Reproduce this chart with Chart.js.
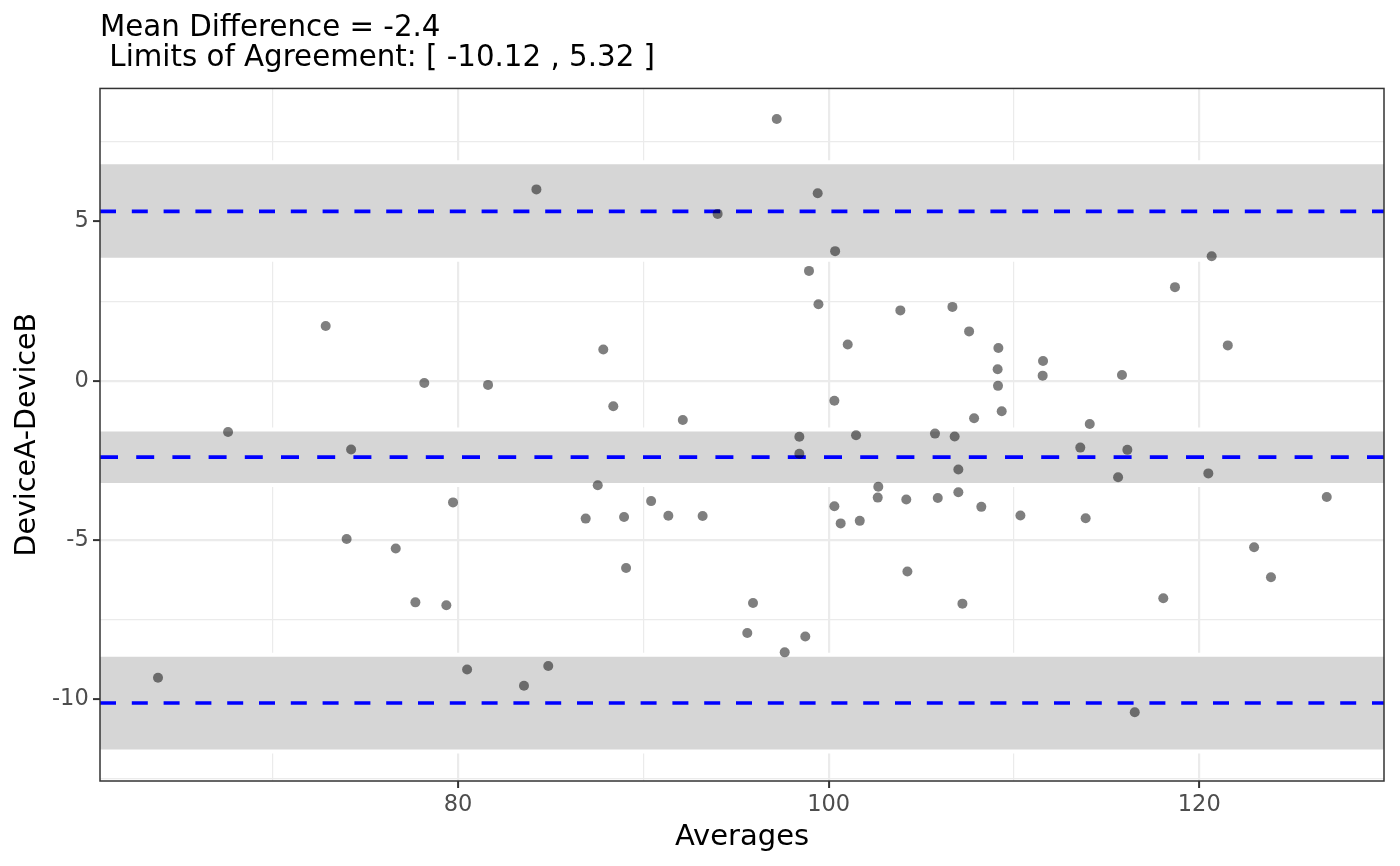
<!DOCTYPE html>
<html>
<head>
<meta charset="utf-8">
<script src="https://cdn.jsdelivr.net/npm/chart.js@4/dist/chart.umd.min.js"></script>
<style>
  html, body { margin: 0; padding: 0; background: #ffffff; }
  #wrap { width: 1400px; height: 866px; position: relative; }
</style>
</head>
<body>
<div id="wrap"><canvas id="c" width="1400" height="866"></canvas></div>
<script>
// ---- data ----
const averages = [63.81, 67.59, 72.86, 73.99, 74.23, 76.64, 77.70, 78.18, 79.37, 79.73,
  80.49, 81.62, 83.56, 84.23, 84.87, 86.89, 87.54, 87.84, 88.38, 88.96,
  89.07, 90.42, 91.35, 92.13, 93.20, 94.01, 95.61, 95.92, 97.20, 97.63,
  98.42, 98.42, 98.74, 98.94, 99.41, 99.45, 100.31, 100.35, 100.31, 100.65,
  101.03, 101.48, 101.68, 102.65, 102.68, 103.87, 104.19, 104.25, 105.74, 105.89,
  106.68, 106.80, 107.00, 107.00, 107.22, 107.58, 107.85, 108.24, 109.16, 109.12,
  109.14, 109.34, 110.35, 111.57, 111.55, 113.58, 113.87, 114.09, 115.62, 115.83,
  116.12, 116.52, 118.06, 118.69, 120.49, 120.67, 121.54, 122.96, 123.87, 126.88];
const differences = [-9.33, -1.61, 1.72, -4.97, -2.16, -5.27, -6.96, -0.07, -7.05, -3.82,
  -9.07, -0.13, -9.58, 6.01, -8.96, -4.33, -3.28, 0.98, -0.80, -4.28,
  -5.88, -3.78, -4.24, -1.23, -4.25, 5.24, -7.92, -6.98, 8.22, -8.53,
  -1.76, -2.29, -8.03, 3.45, 5.89, 2.40, -0.63, 4.07, -3.94, -4.48,
  1.14, -1.71, -4.40, -3.67, -3.33, 2.21, -3.73, -5.99, -1.66, -3.68,
  2.32, -1.75, -2.79, -3.50, -7.00, 1.55, -1.18, -3.96, 1.03, 0.36,
  -0.16, -0.96, -4.23, 0.62, 0.16, -2.10, -4.32, -1.36, -3.03, 0.18,
  -2.17, -10.41, -6.83, 2.94, -2.91, 3.91, 1.11, -5.23, -6.17, -3.65];

const meanDiff = -2.4;
const lowerLoA = -10.12;
const upperLoA = 5.32;
// confidence bands (low, high) for lower LoA, mean, upper LoA
const bandLow  = [-11.58, -3.21, 3.86];
const bandHigh = [-8.67, -1.59, 6.80];
const refLines = [upperLoA, meanDiff, lowerLoA];

// axes
const xRange = [60.68, 129.97];
const yRange = [-12.57, 9.18];
const xMajorTicks = [80, 100, 120];
const xMinorTicks = [70, 90, 110];
const yMajorTicks = [-10, -5, 0, 5];
const yMinorTicks = [-12.5, -7.5, -2.5, 2.5, 7.5];

const titleLines = ["Mean Difference = " + meanDiff,
  " Limits of Agreement: [ " + lowerLoA + " , " + upperLoA + " ]"];
const xTitle = "Averages";
const yTitle = "DeviceA-DeviceB";

// ---- build datasets ----
const FONT = "DejaVu Sans";
const datasets = [];

datasets.push({
  type: 'scatter',
  data: averages.map((a, i) => ({x: a, y: differences[i]})),
  pointRadius: 5,
  pointHoverRadius: 5,
  pointBackgroundColor: 'rgba(0,0,0,0.5)',
  pointBorderWidth: 0,
  showLine: false,
  order: 0
});

refLines.forEach((v, i) => {
  datasets.push({
    type: 'line',
    data: [{x: xRange[0], y: v}, {x: xRange[1], y: v}],
    borderColor: '#0000FF',
    borderWidth: 3.6,
    borderDash: v === meanDiff ? [18, 18.2] : [16, 15.8],
    pointRadius: 0,
    fill: false,
    clip: 0,
    order: 1
  });
});

const pad = 8;
bandLow.forEach((lo, i) => {
  const hi = bandHigh[i];
  const poly = [
    {x: xRange[0] - pad, y: hi}, {x: xRange[1] + pad, y: hi},
    {x: xRange[1] + pad, y: lo}, {x: xRange[0] - pad, y: lo},
    {x: xRange[0] - pad, y: hi}
  ];
  // white halo around the band (hides gridlines next to it)
  datasets.push({
    type: 'line', data: poly, borderColor: '#FFFFFF', borderWidth: 8,
    backgroundColor: '#FFFFFF', fill: 'shape', pointRadius: 0, clip: 0,
    tension: 0, order: 3
  });
  datasets.push({
    type: 'line', data: poly, borderWidth: 0, borderColor: 'rgba(0,0,0,0)',
    backgroundColor: '#D6D6D6', fill: 'shape', pointRadius: 0, clip: 0,
    tension: 0, order: 2
  });
});

const frame = {
  id: 'frame',
  afterDatasetsDraw(chart) {
    const {ctx, chartArea: a} = chart;
    ctx.save();
    ctx.strokeStyle = '#333333';
    ctx.lineWidth = 1.5;
    ctx.strokeRect(a.left, a.top, a.right - a.left, a.bottom - a.top);
    ctx.restore();
  }
};

const isMajor = (list, v) => list.some(t => Math.abs(t - v) < 1e-9);

new Chart(document.getElementById('c'), {
  type: 'scatter',
  data: { datasets },
  plugins: [frame],
  options: {
    responsive: false,
    animation: false,
    devicePixelRatio: 1,
    events: [],
    layout: { padding: { left: 0, right: 16, top: 0, bottom: 0 } },
    plugins: {
      legend: { display: false },
      tooltip: { enabled: false },
      title: {
        display: true,
        text: titleLines,
        align: 'start',
        fullSize: false,
        color: '#000000',
        font: { family: FONT, size: 29.3, weight: 'normal', lineHeight: 1.04 },
        padding: { top: 13, bottom: 14.5 }
      }
    },
    scales: {
      x: {
        type: 'linear',
        min: xRange[0], max: xRange[1],
        afterBuildTicks: (s) => { s.ticks = xMinorTicks.concat(xMajorTicks).sort((a,b)=>a-b).map(v => ({value: v})); },
        afterFit: (s) => { s.height = 85; },
        ticks: {
          autoSkip: false, maxRotation: 0, padding: 3.8,
          color: '#4D4D4D',
          font: { family: FONT, size: 22.5 },
          callback: (v) => isMajor(xMajorTicks, v) ? String(v) : ''
        },
        grid: {
          color: '#EBEBEB',
          lineWidth: (ctx) => isMajor(xMajorTicks, ctx.tick.value) ? 2.2 : 1.2,
          tickLength: 7,
          tickWidth: 2,
          tickColor: (ctx) => isMajor(xMajorTicks, ctx.tick.value) ? '#333333' : 'rgba(0,0,0,0)'
        },
        border: { display: false },
        title: {
          display: true, text: xTitle, color: '#000000',
          font: { family: FONT, size: 29, lineHeight: 1.2 },
          padding: { top: 0, bottom: 11.6 }
        }
      },
      y: {
        type: 'linear',
        min: yRange[0], max: yRange[1],
        afterBuildTicks: (s) => { s.ticks = yMinorTicks.concat(yMajorTicks).sort((a,b)=>a-b).map(v => ({value: v})); },
        afterFit: (s) => { s.width = 100; },
        ticks: {
          autoSkip: false, padding: 4.3,
          color: '#4D4D4D',
          font: { family: FONT, size: 22.5 },
          callback: (v) => isMajor(yMajorTicks, v) ? String(v) : ''
        },
        grid: {
          color: '#EBEBEB',
          lineWidth: (ctx) => isMajor(yMajorTicks, ctx.tick.value) ? 2.2 : 1.2,
          tickLength: 7,
          tickWidth: 2,
          tickColor: (ctx) => isMajor(yMajorTicks, ctx.tick.value) ? '#333333' : 'rgba(0,0,0,0)'
        },
        border: { display: false },
        title: {
          display: true, text: yTitle, color: '#000000',
          font: { family: FONT, size: 28.5, lineHeight: 1.2 },
          padding: { top: 10.2, bottom: 0 }
        }
      }
    }
  }
});
</script>
</body>
</html>
